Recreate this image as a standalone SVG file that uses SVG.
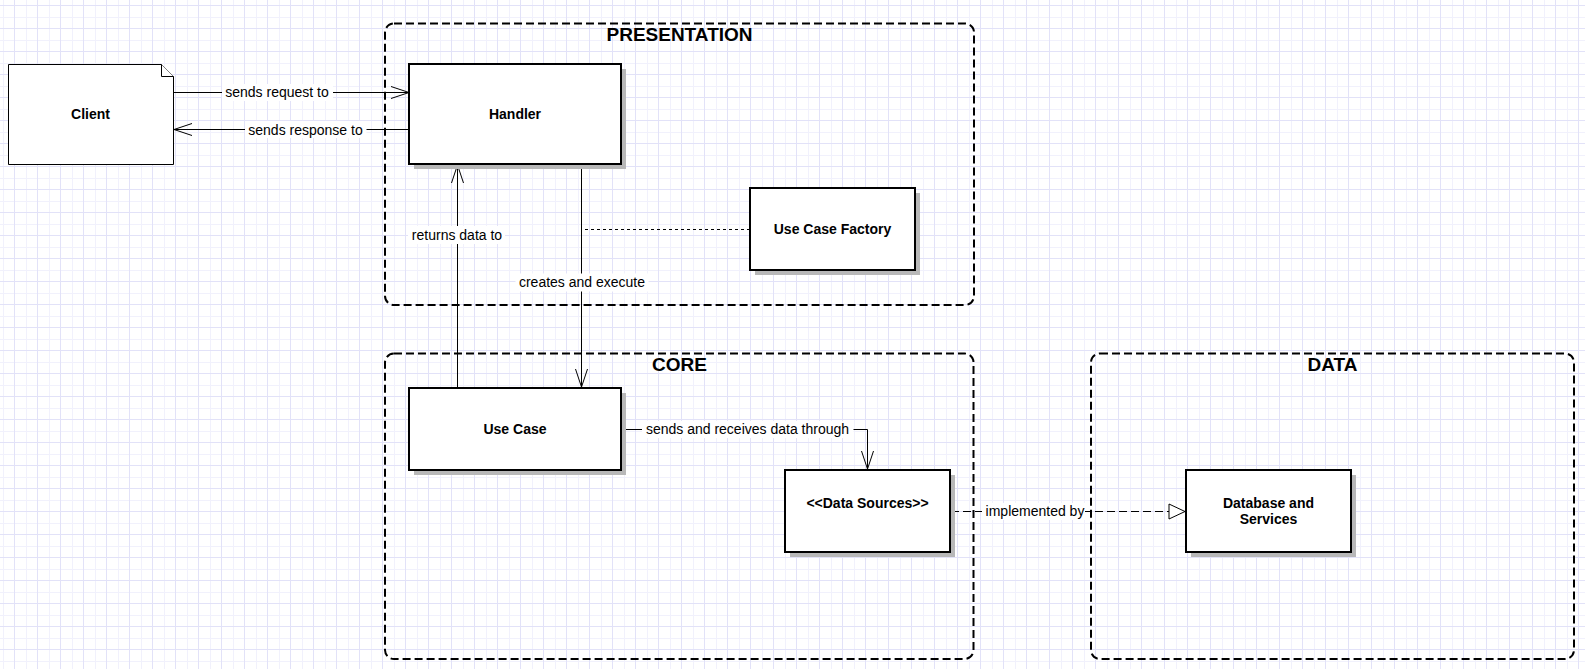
<svg xmlns="http://www.w3.org/2000/svg" width="1585" height="669" viewBox="0 0 1585 669">
  <style>
    .container { fill: none; stroke: #000; stroke-width: 2; stroke-dasharray: 8 4; }
    .box { fill: #fff; stroke: #000; stroke-width: 2; }
    .shadow { fill: #b8b8b8; stroke: none; }
    .note { fill: #fff; stroke: #000; stroke-width: 1; }
    .title { font-family: "Liberation Sans", Arial, sans-serif; font-size: 19px; font-weight: bold; fill: #000; text-anchor: middle; }
    .label { font-family: "Liberation Sans", Arial, sans-serif; font-size: 14px; font-weight: bold; fill: #000; text-anchor: middle; }
    .edge { fill: none; stroke: #000; stroke-width: 1; }
    .dashed { stroke-dasharray: 3 3; }
    .dashed2 { stroke-dasharray: 8 4; }
    .elabel { font-family: "Liberation Sans", Arial, sans-serif; font-size: 14px; fill: #000; text-anchor: middle; }
    .lbg { fill: #fff; stroke: none; }
  </style>
  <defs>
    <pattern id="grid" patternUnits="userSpaceOnUse" x="0" y="0" width="23" height="23">
      <rect width="23" height="23" fill="#fff"/>
      <line x1="3.5" y1="0" x2="3.5" y2="23" stroke="#f1f1fc" stroke-width="1"/>
      <line x1="0" y1="17.5" x2="23" y2="17.5" stroke="#f1f1fc" stroke-width="1"/>
      <line x1="14.5" y1="0" x2="14.5" y2="23" stroke="#e2e2f8" stroke-width="1"/>
      <line x1="0" y1="5.5" x2="23" y2="5.5" stroke="#e2e2f8" stroke-width="1"/>
    </pattern>
    <marker id="open" markerUnits="userSpaceOnUse" markerWidth="22" markerHeight="16" refX="19" refY="7" orient="auto" overflow="visible">
      <path d="M1,1 L19,7 L1,13" fill="none" stroke="#000" stroke-width="1"/>
    </marker>
    <marker id="hollow" markerUnits="userSpaceOnUse" markerWidth="20" markerHeight="18" refX="17" refY="8" orient="auto" overflow="visible">
      <path d="M1,0.5 L17,8 L1,15.5 Z" fill="#fff" stroke="#000" stroke-width="1"/>
    </marker>
  </defs>

  <rect width="1585" height="669" fill="url(#grid)"/>

  <g id="presentation">
    <rect class="container" x="385" y="23.5" width="589" height="281.5" rx="9" ry="9"/>
    <text class="title" x="679.5" y="41">PRESENTATION</text>
  </g>
  <g id="core">
    <rect class="container" x="385" y="353.5" width="588.5" height="305.5" rx="9" ry="9"/>
    <text class="title" x="679.5" y="371">CORE</text>
  </g>
  <g id="data">
    <rect class="container" x="1091" y="353.5" width="483" height="305.5" rx="9" ry="9"/>
    <text class="title" x="1332.5" y="371">DATA</text>
  </g>

  <g id="connectors">
    <line class="edge" x1="173" y1="92.5" x2="409" y2="92.5" marker-end="url(#open)"/>
    <rect class="lbg" x="222" y="84" width="111" height="17"/>
    <text class="elabel" x="277" y="97">sends request to</text>

    <line class="edge" x1="409" y1="129.5" x2="174" y2="129.5" marker-end="url(#open)"/>
    <rect class="lbg" x="245" y="121" width="121.5" height="17"/>
    <text class="elabel" x="305.5" y="134.5">sends response to</text>

    <line class="edge" x1="457.5" y1="388" x2="457.5" y2="165" marker-end="url(#open)"/>
    <rect class="lbg" x="408" y="226" width="97" height="18"/>
    <text class="elabel" x="457" y="239.5">returns data to</text>

    <line class="edge" x1="581.5" y1="164" x2="581.5" y2="387" marker-end="url(#open)"/>
    <rect class="lbg" x="515.5" y="273.5" width="133" height="18"/>
    <text class="elabel" x="582" y="287">creates and execute</text>

    <line class="edge dashed" x1="750" y1="229.5" x2="582" y2="229.5"/>

    <polyline class="edge" points="621,429.5 867.5,429.5 867.5,469" marker-end="url(#open)"/>
    <rect class="lbg" x="642" y="421" width="211.5" height="17"/>
    <text class="elabel" x="747.5" y="434">sends and receives data through</text>

    <line class="edge dashed2" x1="951" y1="511.5" x2="1185" y2="511.5" marker-end="url(#hollow)"/>
    <rect class="lbg" x="982" y="503" width="103" height="17"/>
    <text class="elabel" x="1035" y="516">implemented by</text>
  </g>

  <g id="client">
    <path class="note" d="M8.5,64.5 H161.5 L173.5,76.5 V164.5 H8.5 Z"/>
    <path class="note" d="M161.5,64.5 V76.5 H173.5" fill="none"/>
    <text class="label" x="90.5" y="119">Client</text>
  </g>

  <g id="handler">
    <rect class="shadow" x="414" y="69" width="212" height="100"/>
    <rect class="box" x="409" y="64" width="212" height="100"/>
    <text class="label" x="515" y="119">Handler</text>
  </g>

  <g id="use-case-factory">
    <rect class="shadow" x="755" y="193" width="165" height="82"/>
    <rect class="box" x="750" y="188" width="165" height="82"/>
    <text class="label" x="832.5" y="234">Use Case Factory</text>
  </g>

  <g id="use-case">
    <rect class="shadow" x="414" y="393" width="212" height="82"/>
    <rect class="box" x="409" y="388" width="212" height="82"/>
    <text class="label" x="515" y="434">Use Case</text>
  </g>

  <g id="data-sources">
    <rect class="shadow" x="790" y="475" width="165" height="82"/>
    <rect class="box" x="785" y="470" width="165" height="82"/>
    <text class="label" x="867.5" y="507.5">&lt;&lt;Data Sources&gt;&gt;</text>
  </g>

  <g id="database-and-services">
    <rect class="shadow" x="1191" y="475" width="165" height="82"/>
    <rect class="box" x="1186" y="470" width="165" height="82"/>
    <text class="label" x="1268.5" y="508">Database and</text>
    <text class="label" x="1268.5" y="524">Services</text>
  </g>
</svg>
